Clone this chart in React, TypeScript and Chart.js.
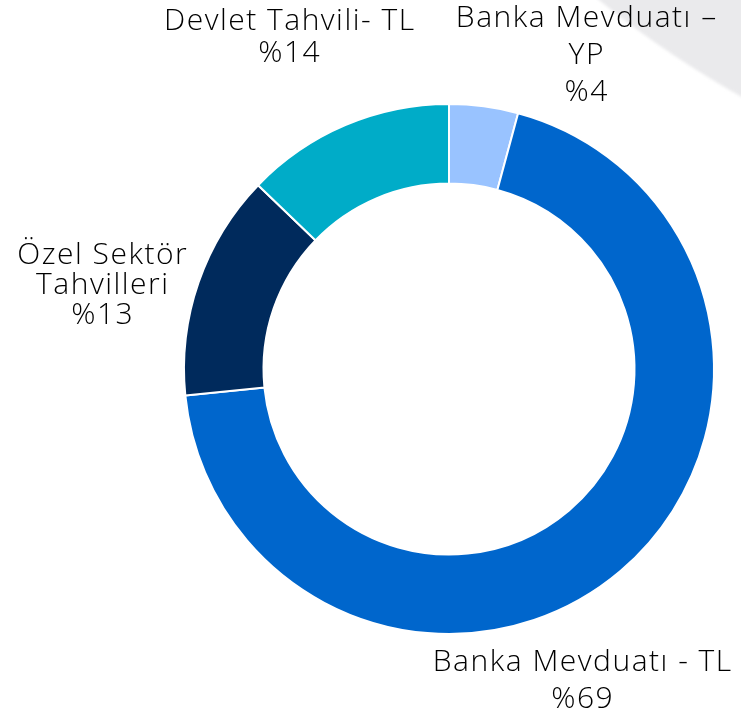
import React, { useEffect, useRef } from "react";
import { Chart, registerables } from "chart.js";

Chart.register(...registerables);

const categories = [
  "Banka Mevduatı – YP",
  "Banka Mevduatı - TL",
  "Özel Sektör Tahvilleri",
  "Devlet Tahvili- TL",
];
const shares = [4.2, 69.2, 13.8, 12.8];
const labelLines = [
  ["Banka Mevduatı –", "YP", "%4"],
  ["Banka Mevduatı - TL", "%69"],
  ["Özel Sektör", "Tahvilleri", "%13"],
  ["Devlet Tahvili- TL", "%14"],
];
const colors = ["#99C3FF", "#0066CC", "#002A5C", "#00ACC8"];

// label layout (x centre, first line centre y, line spacing)
const labelLayout = [
  { x: 586, y: 18, gap: 37 },
  { x: 582, y: 662, gap: 37 },
  { x: 102, y: 255, gap: 30 },
  { x: 289, y: 21, gap: 32 },
];

const FONT = "'Open Sans', Lato, sans-serif";

export default function App() {
  const ref = useRef<HTMLCanvasElement>(null);
  useEffect(() => {
    if (!ref.current) return;
    const decoPlugin = {
      id: "deco",
      beforeDraw(chart: any) {
        const ctx = chart.ctx;
        ctx.save();
        ctx.fillStyle = "#EAEAEC";
        ctx.filter = "blur(1.5px)";
        ctx.beginPath();
        ctx.arc(1229, -774, 998, 0, Math.PI * 2);
        ctx.fill();
        ctx.restore();
      },
      afterDraw(chart: any) {
        const ctx = chart.ctx;
        ctx.save();
        ctx.fillStyle = "#000000";
        ctx.font = `300 30px ${FONT}`;
        (ctx as any).letterSpacing = "1.5px";
        ctx.textAlign = "center";
        ctx.textBaseline = "middle";
        labelLines.forEach((lines, i) => {
          const L = labelLayout[i];
          lines.forEach((t, j) => ctx.fillText(t, L.x + 0.75, L.y + j * L.gap));
        });
        ctx.restore();
      },
    };
    const chart = new Chart(ref.current, {
      type: "doughnut",
      data: {
        labels: categories,
        datasets: [
          {
            data: shares,
            backgroundColor: colors,
            borderColor: "#FFFFFF",
            borderWidth: 2,
          },
        ],
      },
      options: {
        responsive: false,
        animation: false,
        cutout: "70%",
        layout: { padding: { left: 183, right: 26, top: 103, bottom: 84 } },
        plugins: { legend: { display: false }, tooltip: { enabled: false } },
      },
      plugins: [decoPlugin],
    });
    return () => chart.destroy();
  }, []);
  return (
    <div style={{ position: "fixed", left: 0, top: 0, width: 741, height: 719, background: "#fff" }}>
      <canvas ref={ref} width={741} height={719} style={{ width: 741, height: 719, display: "block" }} />
    </div>
  );
}
